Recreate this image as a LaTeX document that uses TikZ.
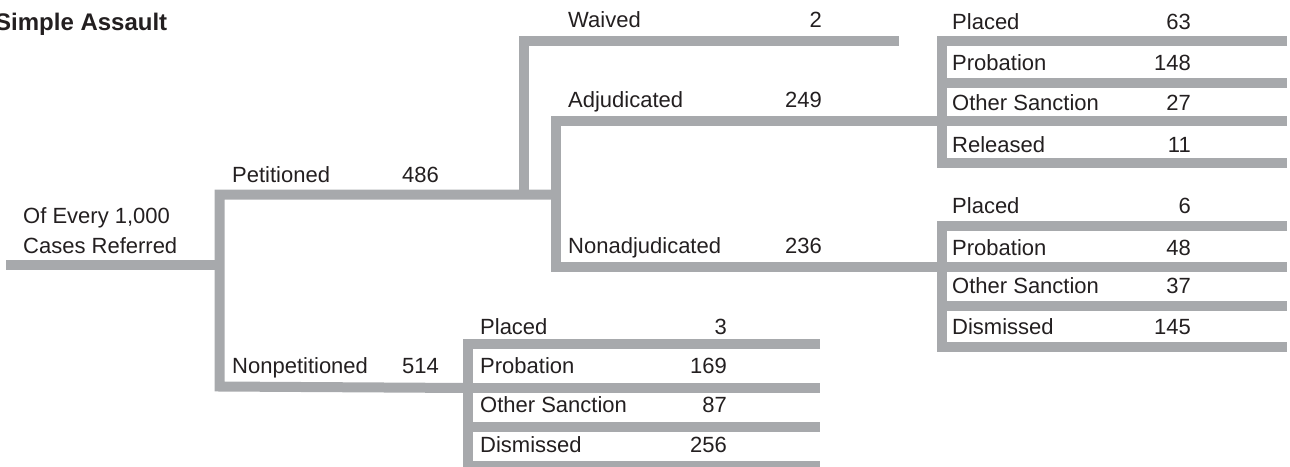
\documentclass[tikz,border=0pt]{standalone}
\usepackage{fontspec}
\setmainfont{Liberation Sans}
\definecolor{barc}{HTML}{A7A9AC}
\definecolor{txt}{HTML}{231F20}
\begin{document}
\begin{tikzpicture}[x=1pt,y=-1pt,
  bar/.style={draw=barc,line width=10pt,line join=miter,line cap=butt},
  lbl/.style={anchor=base west,inner sep=0pt,text=txt,font=\fontsize{22}{26}\selectfont},
  num/.style={anchor=base east,inner sep=0pt,text=txt,font=\fontsize{22}{26}\selectfont},
  ttl/.style={anchor=base west,inner sep=0pt,text=txt,font=\fontsize{24}{28}\selectfont\bfseries}]
\useasboundingbox (0,0) rectangle (1290,466);
% coordinates
\coordinate (start) at (6,264.5);
\coordinate (root) at (219.5,264.5);
\coordinate (petc) at (219.5,194.5);
\coordinate (nonc) at (219.5,386.5);
\coordinate (wj) at (523.5,194.5);
\coordinate (wc) at (523.5,40.5);
\coordinate (wend) at (899,40.5);
\coordinate (aj) at (555.5,194.5);
\coordinate (ac) at (555.5,120.5);
\coordinate (nc) at (555.5,267);
% upper right box
\coordinate (ua) at (941.5,41);
\coordinate (ub) at (941.5,83);
\coordinate (uc) at (941.5,120.5);
\coordinate (ud) at (941.5,163);
\coordinate (uae) at (1287,41);
\coordinate (ube) at (1287,83);
\coordinate (uce) at (1287,120.5);
\coordinate (ude) at (1287,163);
% lower right box
\coordinate (la) at (941.5,225.5);
\coordinate (lb) at (941.5,267);
\coordinate (lc) at (941.5,306);
\coordinate (ld) at (941.5,347);
\coordinate (lae) at (1287,225.5);
\coordinate (lbe) at (1287,267);
\coordinate (lce) at (1287,306);
\coordinate (lde) at (1287,347);
% bottom box
\coordinate (ba) at (467.5,344);
\coordinate (bb) at (467.5,388);
\coordinate (bc) at (467.5,427);
\coordinate (bd) at (467.5,466);
\coordinate (bae) at (820,344);
\coordinate (bbe) at (820,388);
\coordinate (bce) at (820,427);
\coordinate (bde) at (820,466);
% bars
\draw[bar] (start) -- (root);
\draw[bar] (aj) -- (petc) -- (nonc) -- (bb);
\draw[bar] (wj) -- (wc) -- (wend);
\draw[bar] (uc) -- (ac) -- (nc) -- (lb);
\draw[bar] (uae) -- (ua) -- (ud) -- (ude);
\draw[bar] (ub) -- (ube);
\draw[bar] (uc) -- (uce);
\draw[bar] (lae) -- (la) -- (ld) -- (lde);
\draw[bar] (lb) -- (lbe);
\draw[bar] (lc) -- (lce);
\draw[bar] (bae) -- (ba) -- (bd) -- (bde);
\draw[bar] (bb) -- (bbe);
\draw[bar] (bc) -- (bce);
% texts
\node[ttl] (title) at (-5,30) {Simple Assault};
\node[lbl] (of) at (23,223) {Of Every 1,000};
\node[lbl] (cases) at (23,253) {Cases Referred};
\node[lbl] (pet) at (232,182) {Petitioned};
\node[num] (petn) at (439,182) {486};
\node[lbl] (npet) at (232,373) {Nonpetitioned};
\node[num] (npetn) at (439,373) {514};
\node[lbl] (wai) at (568,27) {Waived};
\node[num] (wain) at (822,27) {2};
\node[lbl] (adj) at (568,107) {Adjudicated};
\node[num] (adjn) at (822,107) {249};
\node[lbl] (nadj) at (568,253) {Nonadjudicated};
\node[num] (nadjn) at (822,253) {236};
% upper right
\node[lbl] (u1) at (952,29) {Placed};
\node[num] (u1n) at (1191,29) {63};
\node[lbl] (u2) at (952,70) {Probation};
\node[num] (u2n) at (1191,70) {148};
\node[lbl] (u3) at (952,110) {Other Sanction};
\node[num] (u3n) at (1191,110) {27};
\node[lbl] (u4) at (952,152) {Released};
\node[num] (u4n) at (1191,152) {11};
% lower right
\node[lbl] (l1) at (952,213) {Placed};
\node[num] (l1n) at (1191,213) {6};
\node[lbl] (l2) at (952,255) {Probation};
\node[num] (l2n) at (1191,255) {48};
\node[lbl] (l3) at (952,293) {Other Sanction};
\node[num] (l3n) at (1191,293) {37};
\node[lbl] (l4) at (952,334) {Dismissed};
\node[num] (l4n) at (1191,334) {145};
% bottom
\node[lbl] (b1) at (480,334) {Placed};
\node[num] (b1n) at (727,334) {3};
\node[lbl] (b2) at (480,373) {Probation};
\node[num] (b2n) at (727,373) {169};
\node[lbl] (b3) at (480,412) {Other Sanction};
\node[num] (b3n) at (727,412) {87};
\node[lbl] (b4) at (480,452) {Dismissed};
\node[num] (b4n) at (727,452) {256};
\end{tikzpicture}
\end{document}
